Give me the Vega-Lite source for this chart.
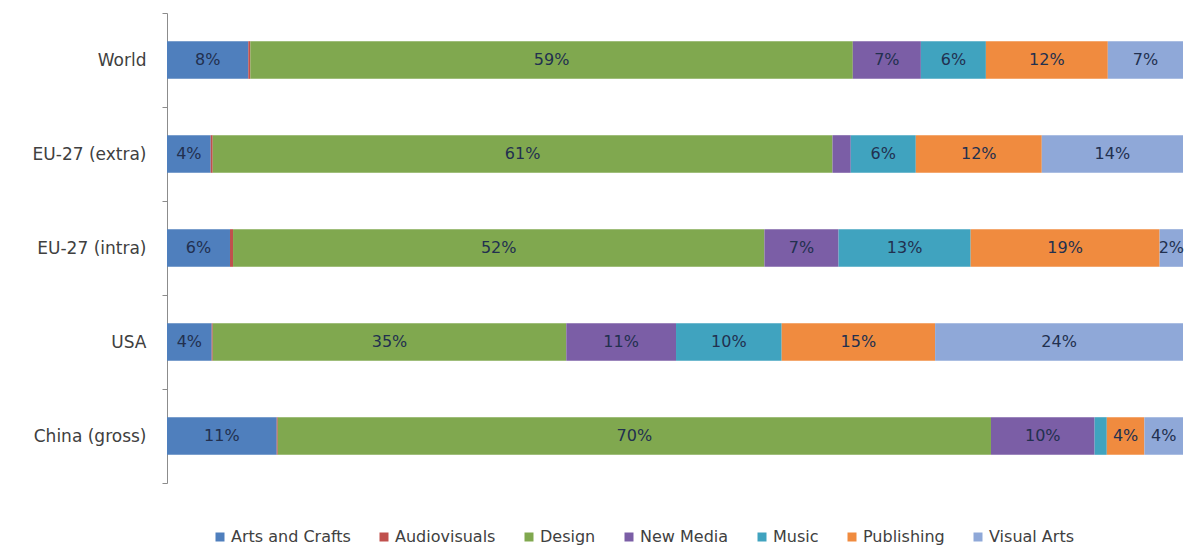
{
  "$schema": "https://vega.github.io/schema/vega-lite/v6.json",
  "width": 1016,
  "height": 470,
  "autosize": {"type": "none"},
  "padding": {"left": 167, "top": 13, "right": 13, "bottom": 64},
  "background": "white",
  "data": {"values": [
    {"region": "World", "cat": "Arts and Crafts", "idx": 1, "value": 8.0},
    {"region": "World", "cat": "Audiovisuals", "idx": 2, "value": 0.2},
    {"region": "World", "cat": "Design", "idx": 3, "value": 59.3},
    {"region": "World", "cat": "New Media", "idx": 4, "value": 6.7},
    {"region": "World", "cat": "Music", "idx": 5, "value": 6.4},
    {"region": "World", "cat": "Publishing", "idx": 6, "value": 12.0},
    {"region": "World", "cat": "Visual Arts", "idx": 7, "value": 7.4},
    {"region": "EU-27 (extra)", "cat": "Arts and Crafts", "idx": 1, "value": 4.3},
    {"region": "EU-27 (extra)", "cat": "Audiovisuals", "idx": 2, "value": 0.2},
    {"region": "EU-27 (extra)", "cat": "Design", "idx": 3, "value": 61.0},
    {"region": "EU-27 (extra)", "cat": "New Media", "idx": 4, "value": 1.8},
    {"region": "EU-27 (extra)", "cat": "Music", "idx": 5, "value": 6.4},
    {"region": "EU-27 (extra)", "cat": "Publishing", "idx": 6, "value": 12.4},
    {"region": "EU-27 (extra)", "cat": "Visual Arts", "idx": 7, "value": 13.9},
    {"region": "EU-27 (intra)", "cat": "Arts and Crafts", "idx": 1, "value": 6.2},
    {"region": "EU-27 (intra)", "cat": "Audiovisuals", "idx": 2, "value": 0.3},
    {"region": "EU-27 (intra)", "cat": "Design", "idx": 3, "value": 52.3},
    {"region": "EU-27 (intra)", "cat": "New Media", "idx": 4, "value": 7.3},
    {"region": "EU-27 (intra)", "cat": "Music", "idx": 5, "value": 13.0},
    {"region": "EU-27 (intra)", "cat": "Publishing", "idx": 6, "value": 18.6},
    {"region": "EU-27 (intra)", "cat": "Visual Arts", "idx": 7, "value": 2.3},
    {"region": "USA", "cat": "Arts and Crafts", "idx": 1, "value": 4.4},
    {"region": "USA", "cat": "Audiovisuals", "idx": 2, "value": 0.1},
    {"region": "USA", "cat": "Design", "idx": 3, "value": 34.8},
    {"region": "USA", "cat": "New Media", "idx": 4, "value": 10.8},
    {"region": "USA", "cat": "Music", "idx": 5, "value": 10.4},
    {"region": "USA", "cat": "Publishing", "idx": 6, "value": 15.1},
    {"region": "USA", "cat": "Visual Arts", "idx": 7, "value": 24.4},
    {"region": "China (gross)", "cat": "Arts and Crafts", "idx": 1, "value": 10.8},
    {"region": "China (gross)", "cat": "Audiovisuals", "idx": 2, "value": 0.1},
    {"region": "China (gross)", "cat": "Design", "idx": 3, "value": 70.2},
    {"region": "China (gross)", "cat": "New Media", "idx": 4, "value": 10.2},
    {"region": "China (gross)", "cat": "Music", "idx": 5, "value": 1.2},
    {"region": "China (gross)", "cat": "Publishing", "idx": 6, "value": 3.7},
    {"region": "China (gross)", "cat": "Visual Arts", "idx": 7, "value": 3.8}
  ]},
  "transform": [
    {"stack": "value", "groupby": ["region"], "sort": [{"field": "idx", "order": "ascending"}], "as": ["v0", "v1"], "offset": "normalize"},
    {"calculate": "(datum.v0 + datum.v1) / 2", "as": "mid"},
    {"calculate": "format(datum.value, '.0f') + '%'", "as": "label"}
  ],
  "encoding": {
    "y": {
      "field": "region",
      "type": "nominal",
      "sort": ["World", "EU-27 (extra)", "EU-27 (intra)", "USA", "China (gross)"],
      "scale": {"paddingInner": 0, "paddingOuter": 0},
      "axis": {
        "title": null,
        "tickBand": "extent",
        "labelFont": "DejaVu Sans",
        "labelFontSize": 17,
        "labelColor": "#404040",
        "domainColor": "#8c8c8c",
        "tickColor": "#8c8c8c",
        "tickSize": 5,
        "labelPadding": 16,
        "grid": false
      }
    }
  },
  "layer": [
    {
      "mark": {"type": "bar", "height": {"band": 0.4}},
      "encoding": {
        "x": {"field": "v0", "type": "quantitative", "scale": {"domain": [0, 1]}, "axis": null},
        "x2": {"field": "v1"},
        "color": {
          "field": "cat",
          "type": "nominal",
          "scale": {
            "domain": ["Arts and Crafts", "Audiovisuals", "Design", "New Media", "Music", "Publishing", "Visual Arts"],
            "range": ["#4f7fbd", "#c0504d", "#80a84f", "#7b5ea6", "#40a3bf", "#f08b3f", "#8fa8d8"]
          },
          "legend": {
            "title": null,
            "orient": "none",
            "legendX": 45,
            "legendY": 516,
            "direction": "horizontal",
            "columns": 7,
            "symbolType": "square",
            "symbolSize": 81,
            "symbolStrokeWidth": 0,
            "labelFont": "DejaVu Sans",
            "labelFontSize": 16,
            "labelColor": "#404040",
            "labelOffset": 3,
            "columnPadding": 25
          }
        }
      }
    },
    {
      "transform": [{"filter": "datum.value >= 2"}],
      "mark": {"type": "text", "font": "DejaVu Sans", "fontSize": 16, "color": "#22304f"},
      "encoding": {
        "x": {"field": "mid", "type": "quantitative"},
        "text": {"field": "label"}
      }
    }
  ],
  "config": {"view": {"stroke": null}}
}
